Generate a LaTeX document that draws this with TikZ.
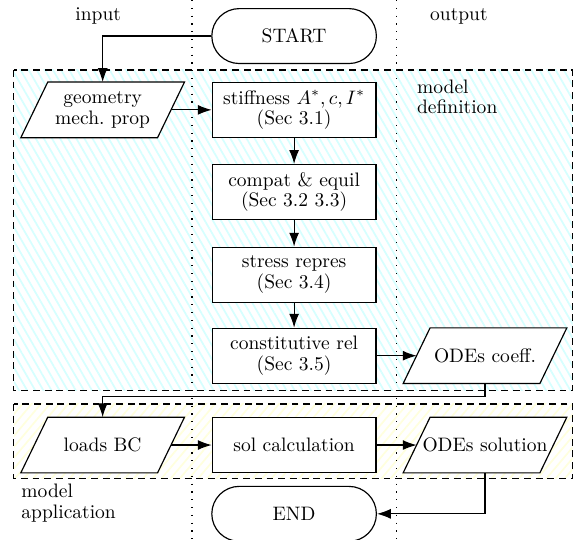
\documentclass[tikz,border=0pt]{standalone}
\usepackage{amsmath}
\usepackage{tikz}
\usetikzlibrary{arrows.meta,positioning,shapes.misc,patterns.meta,backgrounds}

\begin{document}
\begin{tikzpicture}[
    every node/.style={font=\fontsize{10pt}{10.5pt}\selectfont},
    term/.style={draw, semithick, rounded rectangle, fill=white,
                 minimum width=3.2cm, minimum height=0.99cm},
    proc/.style={draw, semithick, fill=white, minimum width=2.95cm,
                 minimum height=0.99cm, align=center},
    io/.style={minimum width=2.45cm, minimum height=0.99cm,
               inner xsep=2pt, align=center},
    arr/.style={-{Latex[length=2.5mm, width=1.8mm]}, semithick},
    lane/.style={line width=0.6pt, dash pattern=on 0.6pt off 3.4pt},
    zone/.style={semithick, dash pattern=on 3.5pt off 2.5pt}
  ]
  \useasboundingbox (0,0) rectangle (10.38,-9.73);
  \node (in)  at (1.77,-0.29) {input};
  \node (out) at (8.27,-0.29) {output};
  \node[anchor=north west, align=left, inner sep=0pt] (mdef) at (7.51,-1.43) {model\\definition};
  \node[anchor=north west, align=left, inner sep=0pt] (mapp) at (0.38,-8.72) {model\\application};

  \node[term] (start)  at (5.30,-0.65) {START};
  \node[io]   (geom)   at (1.85,-1.98) {geometry\\mech.\ prop};
  \node[proc] (stiff)  at (5.30,-1.98) {stiffness $A^{*}, c, I^{*}$\\(Sec 3.1)};
  \node[proc] (compat) at (5.30,-3.46) {compat \& equil\\(Sec 3.2 3.3)};
  \node[proc] (stress) at (5.30,-4.95) {stress repres\\(Sec 3.4)};
  \node[proc] (const)  at (5.30,-6.41) {constitutive rel\\(Sec 3.5)};
  \node[io]   (odec)   at (8.74,-6.41) {ODEs coeff.};
  \node[io]   (loads)  at (1.85,-8.02) {loads BC};
  \node[proc] (solc)   at (5.30,-8.02) {sol calculation};
  \node[io]   (odes)   at (8.74,-8.02) {ODEs solution};
  \node[term] (stop)   at (5.30,-9.26) {END};
  \coordinate (bend) at (8.74,-7.15);

  \begin{scope}[on background layer]
    % zones
    \fill[pattern={Lines[angle=-60, distance=3.6pt, line width=0.9pt]}, pattern color=cyan!16] (0.25,-1.26) rectangle (10.32,-7.03);
    \fill[pattern={Lines[angle=50, distance=3.6pt, line width=0.9pt]}, pattern color=yellow!13] (0.25,-7.28) rectangle (10.32,-8.63);
    \draw[zone] (0.25,-1.26) rectangle (10.32,-7.03);
    \draw[zone] (0.25,-7.28) rectangle (10.32,-8.63);
    % lanes
    \draw[lane] (3.46,0) -- (3.46,-9.73);
    \draw[lane] (7.15,0) -- (7.15,-9.73);
    % slanted data boxes
    \foreach \n in {geom,odec,loads,odes}
      \draw[semithick, fill=white] ([xshift=0.243cm]\n.north west) -- ([xshift=0.243cm]\n.north east)
        -- ([xshift=-0.243cm]\n.south east) -- ([xshift=-0.243cm]\n.south west) -- cycle;
  \end{scope}

  \draw[arr] (start.west) -| (geom.north);
  \draw[arr] (geom.east) -- (stiff.west);
  \draw[arr] (stiff) -- (compat);
  \draw[arr] (compat) -- (stress);
  \draw[arr] (stress) -- (const);
  \draw[arr] (const) -- (odec);
  \draw[arr] (odec.south) -- (bend) -| (loads.north);
  \draw[arr] (loads) -- (solc);
  \draw[arr] (solc) -- (odes);
  \draw[arr] (odes.south) |- (stop.east);
\end{tikzpicture}
\end{document}
